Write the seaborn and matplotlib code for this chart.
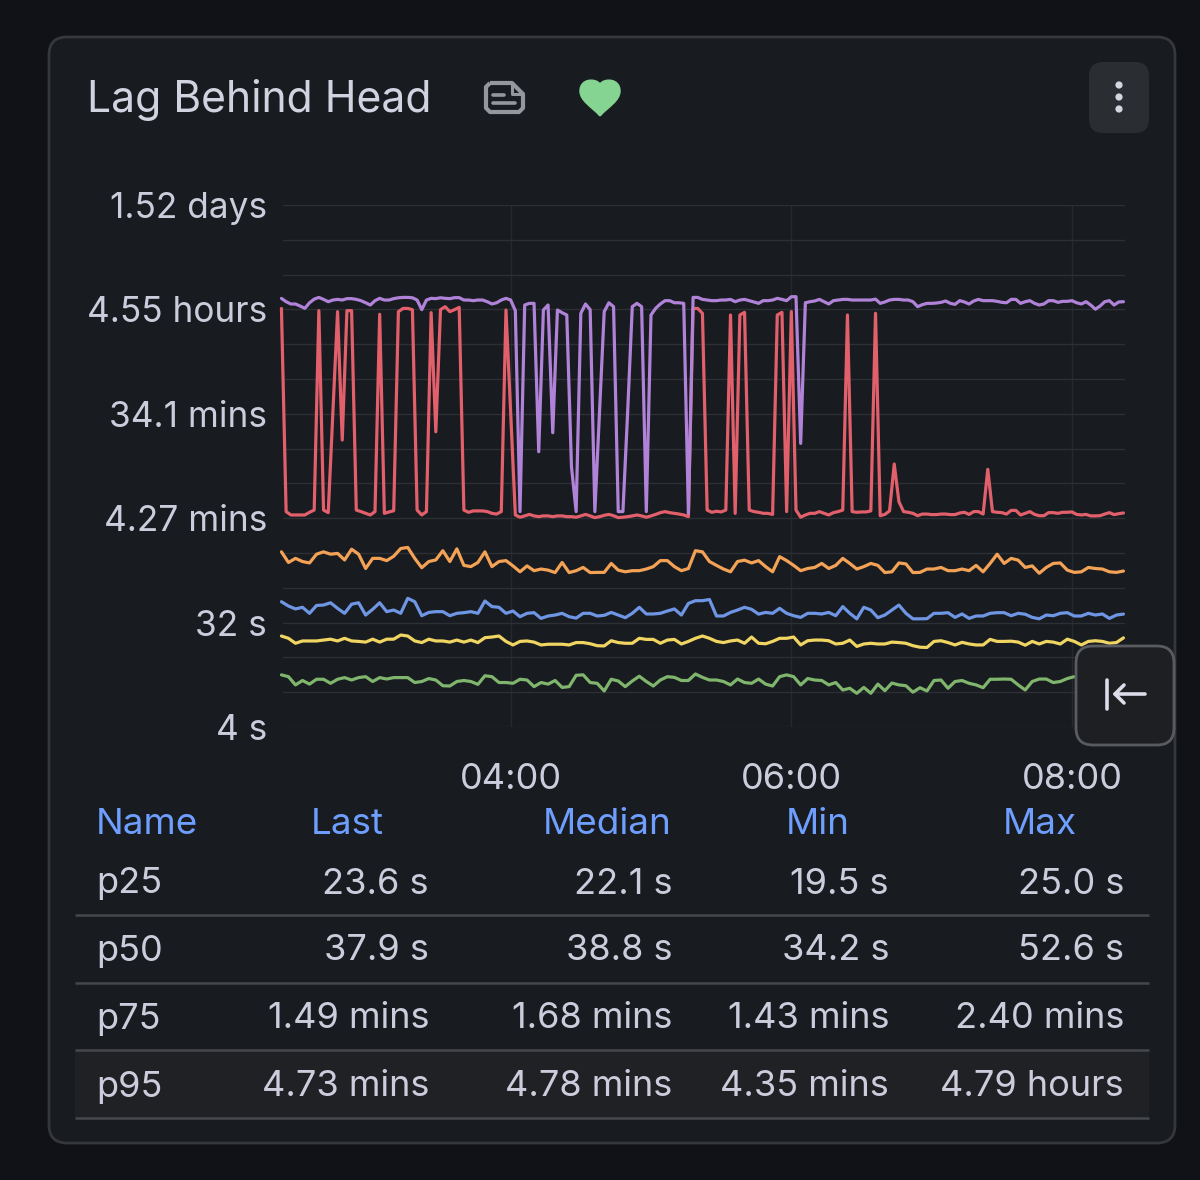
import numpy as np
import pandas as pd
import matplotlib
matplotlib.use("Agg")
import matplotlib.pyplot as plt
import matplotlib.dates as mdates
from matplotlib.patches import FancyBboxPatch, PathPatch, Rectangle, Circle
from matplotlib.path import Path
import seaborn as sns

# lag in seconds
p10 = [11.3,10.9,9.25,10.1,9.4,10.35,10.35,9.55,10.35,10.7,10.2,10.7,10.9,9.9,10.7,10.4,10.7,10.7,10.7,9.7,
       9.9,10.5,10.2,9.1,9.05,9.9,10.1,9.9,9.35,11.1,10.9,9.7,9.7,9.55,10.35,10.2,8.94,9.7,9.4,10.1,
       8.8,8.94,11.2,11.3,9.7,9.55,8.2,10.35,10.0,8.94,10.0,11.0,9.9,9.05,10.2,10.9,10.75,10.1,10.1,11.5,
       10.75,10.2,10.2,9.9,9.25,10.4,9.7,9.55,10.4,9.4,9.05,10.9,11.3,10.9,9.25,10.5,10.2,10.1,9.25,9.7,
       8.36,8.65,7.83,8.8,7.83,9.4,8.25,9.6,9.25,9.1,8.0,8.75,8.2,10.1,10.2,8.65,9.9,10.1,9.55,9.25,
       8.75,10.35,10.35,10.4,10.35,9.25,8.36,9.9,10.4,10.4,9.7,9.9,10.5,10.9]
p25 = [24.5,23.4,21.2,22.2,22.2,22.2,22.6,23.0,22.2,23.4,22.2,22.0,21.7,23.0,21.7,23.0,23.0,25.0,24.5,22.2,
       21.5,23.0,22.2,22.2,21.7,22.6,21.7,22.6,21.5,23.7,24.0,24.5,22.0,20.5,22.0,22.2,21.7,20.5,20.8,20.8,
       20.8,20.5,21.5,21.5,21.0,20.2,20.1,22.3,21.5,21.2,21.2,23.4,22.9,22.9,21.2,22.6,22.9,20.9,22.0,23.4,
       24.5,23.4,22.0,21.5,22.2,22.6,21.2,24.0,21.2,21.0,22.0,23.4,23.4,24.0,20.5,22.3,22.6,22.6,22.3,20.9,
       21.2,22.6,19.9,20.9,21.2,20.9,20.9,21.7,21.5,21.2,20.2,19.6,19.5,22.0,22.3,21.5,20.5,21.6,20.9,20.5,
       20.5,22.9,22.0,22.0,22.1,21.7,20.4,22.0,20.9,22.0,21.7,20.9,23.0,22.0,20.5,22.0,22.3,22.0,21.2,21.5,23.6]
p50 = [48.5,44.5,42.0,43.4,38.5,45.0,45.4,47.5,42.5,38.5,46.2,47.5,37.2,41.7,47.5,39.8,41.1,38.5,51.9,48.5,
       36.7,39.2,39.8,39.8,36.7,38.5,39.0,39.8,38.5,49.2,44.0,43.4,38.5,40.3,36.0,38.5,39.0,34.8,36.5,37.2,
       38.5,36.0,35.0,38.5,38.5,36.5,37.0,39.2,37.2,35.3,38.5,43.4,38.0,38.0,38.5,40.3,42.0,37.2,46.9,49.5,
       49.5,50.7,36.5,36.5,39.2,41.1,43.4,41.7,37.9,39.2,38.5,42.5,38.5,36.7,35.5,38.5,38.5,38.0,39.2,36.7,
       44.0,38.5,34.5,43.4,41.1,35.3,37.2,41.1,45.4,38.5,34.5,34.5,34.6,38.5,38.5,39.0,35.5,38.0,34.8,36.5,
       36.5,38.5,39.0,39.0,36.7,38.5,37.8,35.5,34.5,37.2,36.7,38.5,39.0,36.5,36.5,38.5,37.2,38.0,34.8,37.2,37.9]
p75 = [131,106,115,108,105,125,131,125,127,111.5,138,125,94,115,115,110,120,140,143,115,
       95.5,108,111.5,134,108,139,100,97.6,106,131,97.6,108,110,99,88,99,90,93,91,86.7,
       106,86.7,90,96,86.7,87,87,104,91,88,90,90,93,97.6,110,110,97.6,90,94,134,
       131,108,100,93,88,108,111,105,110,97.6,88,119,110,100,90,94,96,104,94,100,
       115,104,93,97.6,104,100,86.7,88,105,103,86.7,87,93,93,96,90,90,93,90,100,
       88,104,125,104,115,111,96,99,85.5,96,104,105,91,87,88,96,94,93,88,87,89.4]
p95 = [16700,292,273,273,273,273,288,301,15980,301,286,2068,15670,1215,15980,15980,301,292,282,273,
       292,14850,282,290,297,15670,16700,16700,16300,301,273,292,15350,1430,16300,17300,15670,16300,17070,301,
       288,296,296,296,292,282,278,292,16190,2068,273,261,268,276,268,264,268,268,264,268,
       268,264,264,261,268,276,268,259,264,271,276,269,259,261,264,268,273,268,261,268,
       276,286,292,286,282,278,273,264,16700,16700,15150,301,288,294,290,301,14650,282,14650,15450,
       301,292,288,282,282,276,14650,15450,292,15670,301,261,273,282,282,292,282,273,286,292,
       301,14650,292,288,290,290,296,15150,269,276,296,753,356,292,288,282,269,278,278,275,
       275,278,278,275,275,284,288,276,292,292,278,678,292,288,286,278,299,299,273,282,
       292,276,269,269,286,286,282,288,288,290,276,273,276,268,268,269,278,286,275,280,284]
p99 = [20400,19100,18250,18250,17520,16740,18700,20100,20800,20000,19100,19750,20000,19750,20300,20300,20000,19500,18700,17880,
       19500,20420,19750,19750,20300,20650,20800,20800,20650,19750,16300,19750,20420,20300,20650,20420,20300,20700,20700,19750,
       19750,19500,19750,19750,19100,18250,18700,19750,20420,19750,15980,292,17880,18480,18480,963,16190,17880,1405,16190,
       15350,14650,714,292,15150,18250,16300,292,2100,15670,18700,17300,292,292,2068,17300,18480,17300,292,14650,
       16740,18250,19500,19500,18700,18700,18480,282,20800,20800,20000,19750,19500,19500,19750,19750,20000,19100,19750,20000,
       19500,19000,18480,19500,19500,19750,20420,20000,19500,21100,21100,1137,18700,19100,19370,20000,19100,18250,19500,19750,
       20000,20000,19750,19750,19750,19750,19750,20100,18480,19000,19750,20000,20000,19750,19750,19100,17300,18000,18480,18480,
       18600,18850,19370,18480,18120,19500,19000,18250,19370,20000,19500,19500,19500,19230,18850,18700,20000,20000,18480,19100,
       19500,18480,17880,18250,19500,19500,18850,19230,19230,19500,18700,18250,19100,17880,16450,17520,19100,19500,17880,19000,19100]

series_names = ["p10", "p25", "p50", "p75", "p95", "p99"]
series_colors = ["#7fb56c", "#f0d563", "#6f96e4", "#f3a256", "#e2606b", "#b083d9"]

y_ticks = [4, 32, 256, 2048, 16384, 131072]
y_labels = ["4 s", "32 s", "4.27 mins", "34.1 mins", "4.55 hours", "1.52 days"]
x_ticks = ["2024-01-01 04:00", "2024-01-01 06:00", "2024-01-01 08:00"]

table_header = ["Name", "Last", "Median", "Min", "Max"]
table_names = ["p25", "p50", "p75", "p95"]
table_last = ["23.6 s", "37.9 s", "1.49 mins", "4.73 mins"]
table_median = ["22.1 s", "38.8 s", "1.68 mins", "4.78 mins"]
table_min = ["19.5 s", "34.2 s", "1.43 mins", "4.35 mins"]
table_max = ["25.0 s", "52.6 s", "2.40 mins", "4.79 hours"]

OUTER = "#111217"
PANEL = "#181b1f"
TEXT = "#ccccdc"
LINK = "#6e9fff"
GRID = "#2c2f34"

sns.set_theme(style="dark", rc={"figure.facecolor": OUTER, "axes.facecolor": "none",
                                "lines.solid_joinstyle": "round"})
plt.rcParams["font.family"] = ["Inter", "DejaVu Sans"]

# lower series were read every 3 min, the two jumpy ones every 2 min
frames = []
for name, vals in zip(series_names, [p10, p25, p50, p75, p95, p99]):
    freq = "2min" if name in ("p95", "p99") else "3min"
    t = pd.date_range("2024-01-01 02:22", periods=len(vals), freq=freq)
    frames.append(pd.DataFrame({"time": t, "seconds": vals, "series": name}))
long_df = pd.concat(frames, ignore_index=True)

W, H = 1200, 1180
fig = plt.figure(figsize=(W / 100, H / 100), dpi=100, facecolor=OUTER)

# pixel-space layer for the panel, title and table
bg = fig.add_axes([0, 0, 1, 1], zorder=0)
bg.set_xlim(0, W)
bg.set_ylim(H, 0)
bg.axis("off")
bg.add_patch(FancyBboxPatch((49, 37), 1126, 1106, boxstyle="round,pad=0,rounding_size=18",
                            fc=PANEL, ec="#35373c", lw=2))
bg.text(87, 100, "Lag Behind Head", color="#d2d2e0", fontsize=30.7, va="center", ha="left")

# note icon
bg.add_patch(PathPatch(Path([(490, 83), (512, 83), (523, 94), (523, 108), (519, 112), (490, 112),
                             (486, 108), (486, 87), (490, 83)]),
                       fc="none", ec="#96969f", lw=3, joinstyle="round"))
bg.plot([512, 512, 523], [83, 94, 94], color="#96969f", lw=2.2)
bg.plot([493, 504], [95, 95], color="#96969f", lw=2.6, solid_capstyle="round")
bg.plot([493, 515], [103, 103], color="#96969f", lw=2.6, solid_capstyle="round")

# heart
heart_verts = [(600, 116), (592, 107), (580, 101), (580, 91), (580, 78), (596, 78), (600, 84),
               (604, 78), (620, 78), (620, 91), (620, 101), (608, 107), (600, 116)]
heart_codes = [Path.MOVETO] + [Path.CURVE4] * 12
bg.add_patch(PathPatch(Path(heart_verts, heart_codes), fc="#85d492", ec="#85d492", lw=1))

# menu button
bg.add_patch(FancyBboxPatch((1089, 62), 60, 71, boxstyle="round,pad=0,rounding_size=14",
                            fc="#2a2d31", ec="none"))
for cy in (85, 97, 109):
    bg.add_patch(Circle((1119, cy), 3.6, fc="#d5d5e2", ec="none"))

# table
bg.add_patch(Rectangle((75, 1050), 1074, 68, fc="#1f2125", ec="none"))
for ly in (915, 983, 1050, 1118):
    bg.plot([75, 1149], [ly, ly], color="#45474c", lw=1.8, solid_capstyle="butt")
bg.text(96, 825, table_header[0], color=LINK, fontsize=26.5, va="center", ha="left")
for head, hx in zip(table_header[1:], [384, 672, 850, 1077]):
    bg.text(hx, 825, head, color=LINK, fontsize=26.5, va="center", ha="right")
for row, ry in enumerate([884, 951, 1019, 1087]):
    bg.text(96, ry, table_names[row], color=TEXT, fontsize=26, va="center", ha="left")
    for col, cx in zip([table_last, table_median, table_min, table_max], [429, 672, 889, 1124]):
        bg.text(cx, ry, col[row], color=TEXT, fontsize=26, va="center", ha="right")

# chart
ax = fig.add_axes([283 / W, 1 - 727 / H, 842 / W, 522 / H], zorder=1)
ax.patch.set_alpha(0)
sns.lineplot(data=long_df, x="time", y="seconds", hue="series", hue_order=series_names,
             palette=dict(zip(series_names, series_colors)), estimator=None, sort=False,
             linewidth=2.3, legend=False, ax=ax)
for line in ax.lines:
    line.set_clip_on(False)  # first sample sits just left of the axis edge
ax.set_yscale("log", base=2)
ax.set_ylim(4, 131072)
ax.set_xlim(pd.Timestamp("2024-01-01 02:22:40"), pd.Timestamp("2024-01-01 08:22:40"))

all_levels = [4 * 2 ** k for k in range(16)]
ax.set_yticks(all_levels)
ax.set_yticks([], minor=True)
ax.set_yticklabels([y_labels[y_ticks.index(v)] if v in y_ticks else "" for v in all_levels])
ax.set_xticks(pd.to_datetime(x_ticks))
ax.xaxis.set_major_formatter(mdates.DateFormatter("%H:%M"))
ax.grid(True, axis="y", color=GRID, lw=1)
ax.grid(True, axis="x", color="#26292e", lw=1)
ax.set_axisbelow(True)
ax.tick_params(axis="y", length=0, pad=11.5, labelsize=25.4, labelcolor=TEXT)
ax.tick_params(axis="x", length=9, width=1, color="#26292e", pad=17, labelsize=26, labelcolor=TEXT)
ax.set_xlabel("")
ax.set_ylabel("")
sns.despine(ax=ax, left=True, bottom=True)

# collapse button sits over the chart
fg = fig.add_axes([0, 0, 1, 1], zorder=2)
fg.set_xlim(0, W)
fg.set_ylim(H, 0)
fg.axis("off")
fg.patch.set_alpha(0)
fg.add_patch(FancyBboxPatch((1076, 646), 98, 99, boxstyle="round,pad=0,rounding_size=17",
                            fc="#1d1f23", ec="#595b61", lw=2))
fg.plot([1107, 1107], [680, 709], color="#dcdcea", lw=2.6, solid_capstyle="round")
fg.plot([1145, 1115], [694, 694], color="#dcdcea", lw=2.6, solid_capstyle="round")
fg.plot([1124, 1115, 1124], [685, 694, 703], color="#dcdcea", lw=2.6,
        solid_capstyle="round", solid_joinstyle="round")

fig.savefig("out.png", dpi=100, facecolor=OUTER)
